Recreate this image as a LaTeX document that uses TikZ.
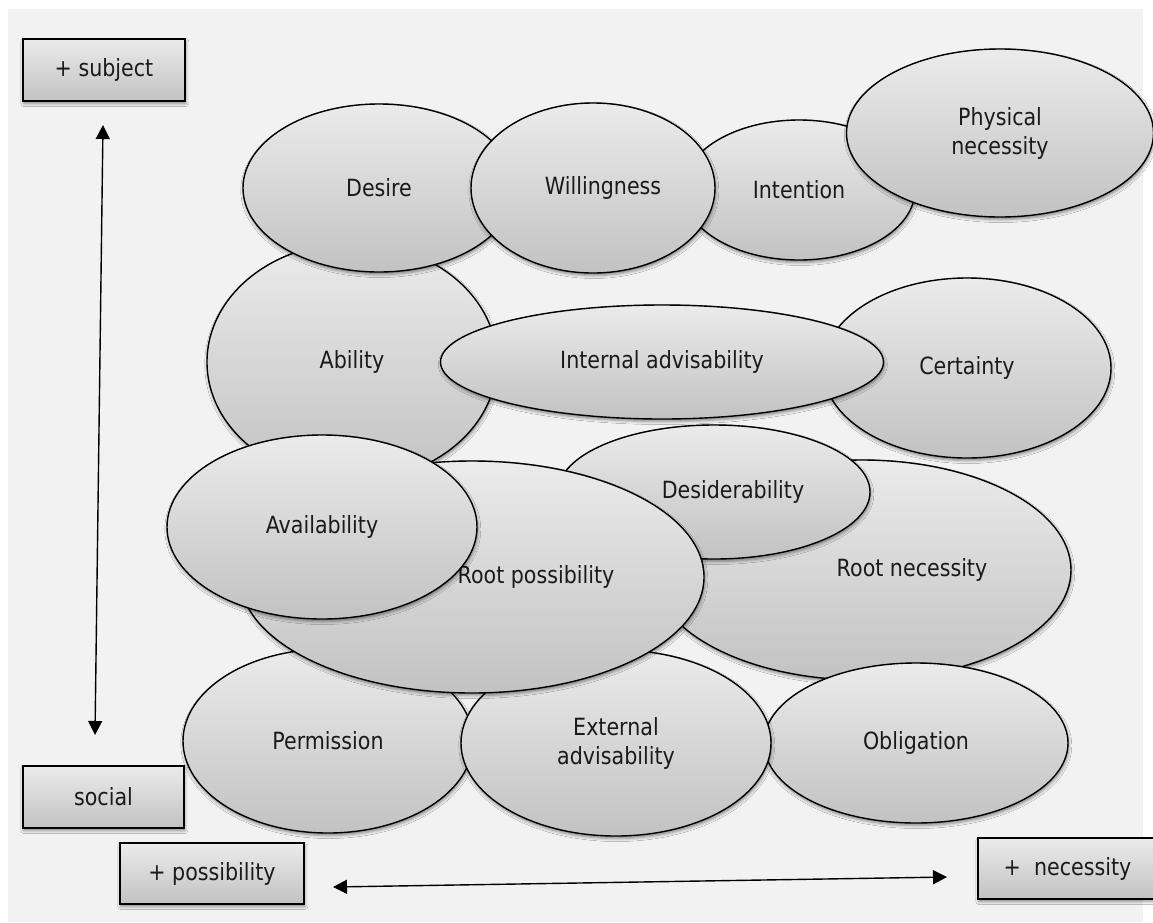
\documentclass[tikz,border=0pt]{standalone}
\usepackage{fontspec}
\setmainfont{DejaVu Sans}[FakeStretch=0.87]
\usetikzlibrary{arrows.meta,shapes.geometric,shadows.blur}

\definecolor{pagegray}{HTML}{F2F2F2}
\definecolor{shadetop}{HTML}{EBEBEB}
\definecolor{shadebot}{HTML}{C2C2C2}
\definecolor{inktext}{HTML}{1A1A1A}

\tikzset{
  softshadow/.style={blur shadow={shadow xshift=0.8pt, shadow yshift=-2.5pt,
      shadow blur radius=3pt, shadow opacity=45}},
  blob/.style={ellipse, draw=black, line width=1.4pt,
      top color=shadetop, bottom color=shadebot,
      inner sep=0pt, text=inktext, softshadow},
  tag/.style={rectangle, draw=black, line width=1.2pt,
      top color=shadetop, bottom color=shadebot,
      inner sep=0pt, text=inktext, softshadow},
  axis/.style={line width=1.4pt,
      {Triangle[length=14pt,width=14pt]}-{Triangle[length=14pt,width=14pt]}},
}

\begin{document}
\begin{tikzpicture}[x=1pt, y=-1pt, font=\fontsize{23.7}{29}\selectfont]
  % page and panel
  \useasboundingbox (0,0) rectangle (1153,922);
  \fill[white] (0,0) rectangle (1153,922);
  \fill[pagegray] (8,9) rectangle (1143,922);

  % labels of the two axes
  \node[tag, minimum width=162pt, minimum height=62pt] (subject) at (104,70) {+ subject};
  \node[tag, minimum width=161pt, minimum height=62pt] (social) at (103.5,797) {social};
  \node[tag, minimum width=184pt, minimum height=61pt] (possib) at (212,873.5) {+ possibility};
  \node[tag, minimum width=179pt, minimum height=61pt] (necess) at (1067.5,868.5) {+\ \ necessity};

  % axes
  \coordinate (vtop) at (103,125);
  \coordinate (vbot) at (95,735);
  \coordinate (hleft) at (333,887);
  \coordinate (hright) at (947,877);
  \draw[axis] (vtop) -- (vbot);
  \draw[axis] (hleft) -- (hright);

  % modal meanings, back to front
  \node[blob, minimum width=290pt, minimum height=238pt] (ability) at (352,362) {Ability};
  \node[blob, minimum width=272pt, minimum height=168pt] (desire) at (379,188) {Desire};
  \node[blob, minimum width=232pt, minimum height=140pt] (intention) at (799,190) {Intention};
  \node[blob, minimum width=244pt, minimum height=170pt] (willing) at (593,188) {\hspace*{20pt}Willingness};
  \node[blob, minimum width=307pt, minimum height=168pt, align=center] (physical) at (1000,133) {Physical\\necessity};
  \node[blob, minimum width=288pt, minimum height=180pt] (certainty) at (967,368) {Certainty};
  \node[blob, minimum width=443pt, minimum height=114pt] (intadv) at (662,362) {Internal advisability};
  \node[blob, minimum width=418pt, minimum height=220pt] (rootnec) at (862,570) {\hspace*{100pt}Root necessity};
  \node[blob, minimum width=312pt, minimum height=134pt] (desider) at (714,492) {\hspace*{38pt}Desiderability};
  \node[blob, minimum width=290pt, minimum height=184pt] (permission) at (328,741) {Permission};
  \node[blob, minimum width=304pt, minimum height=160pt] (obligation) at (916,743) {Obligation};
  \node[blob, minimum width=310pt, minimum height=186pt, align=center] (extadv) at (616,743) {External\\advisability};
  \node[blob, minimum width=464pt, minimum height=232pt] (rootpos) at (472,577) {\hspace*{128pt}Root possibility};
  \node[blob, minimum width=310pt, minimum height=184pt] (avail) at (322,527) {Availability};
\end{tikzpicture}
\end{document}
